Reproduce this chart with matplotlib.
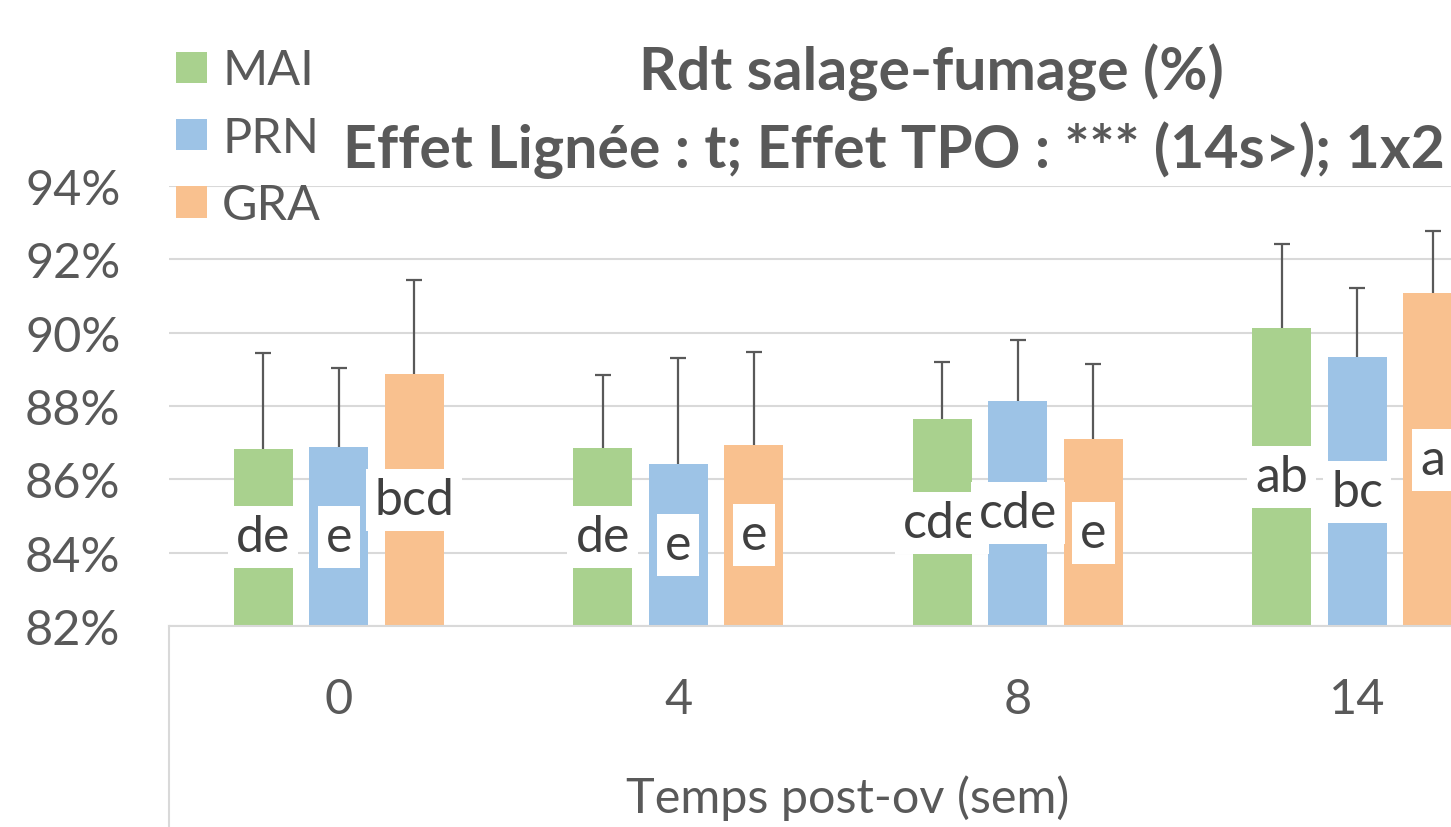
import numpy as np
import matplotlib
matplotlib.use("Agg")
from matplotlib import pyplot as plt
from matplotlib.patches import Patch
from matplotlib.lines import Line2D

# temps post-ovulation (semaines)
temps = ["0", "4", "8", "14"]
lignees = ["MAI", "PRN", "GRA"]

# rendement salage-fumage (%) et écart-type (barre haute)
mai = [86.83, 86.85, 87.64, 90.14]
prn = [86.88, 86.41, 88.15, 89.33]
gra = [88.87, 86.95, 87.09, 91.07]
mai_sd = [2.62, 2.00, 1.55, 2.29]
prn_sd = [2.16, 2.91, 1.66, 1.88]
gra_sd = [2.57, 2.52, 2.05, 1.70]

# lettres des groupes homogènes
mai_lettres = ["de", "de", "cde", "ab"]
prn_lettres = ["e", "e", "cde", "bc"]
gra_lettres = ["bcd", "e", "e", "a"]

couleurs = ["#A9D18E", "#9DC3E6", "#F9C18F"]
gris = "#595959"

plt.rcParams['font.family'] = ['Lato', 'DejaVu Sans']

fig = plt.figure(figsize=(14.51, 8.28), dpi=100)
# zone de tracé plus large que l'image (graphique rogné à droite)
ax = fig.add_axes([169 / 1451, 1 - 627 / 828, 1358 / 1451, (627 - 187) / 828])

x = np.arange(len(temps))
decal = 0.2227
largeur = 0.174
ymin, ymax = 82, 94

series = [mai, prn, gra]
sds = [mai_sd, prn_sd, gra_sd]
lettres = [mai_lettres, prn_lettres, gra_lettres]

for i, (vals, sd, lab, col) in enumerate(zip(series, sds, lettres, couleurs)):
    pos = x + (i - 1) * decal
    vals = np.array(vals)
    haut = vals + np.array(sd)
    ax.bar(pos, vals, width=largeur, color=col, zorder=2)
    # barre d'erreur haute seulement
    ax.vlines(pos, vals, haut, color=gris, linewidth=1.6, zorder=3)
    ax.plot(pos, haut, ls='none', marker='_', ms=12, mew=1.6, color=gris, zorder=3)
    for p, v, t in zip(pos, vals, lab):
        ax.text(p, (ymin + v) / 2, t, ha='center', va='center', fontsize=36,
                color="#404040", zorder=4 + i,
                bbox=dict(boxstyle='square,pad=0.16', fc='white', ec='none'))

ax.set_ylim(ymin, ymax)
ax.set_xlim(-0.5, len(temps) - 0.5)
ax.set_yticks(np.arange(82, 95, 2))
ax.set_yticklabels(["%d%%" % v for v in range(82, 95, 2)])
ax.set_xticks(x)
ax.set_xticklabels(temps)
ax.tick_params(axis='both', length=0, labelsize=35, labelcolor=gris)
ax.tick_params(axis='y', pad=35)
ax.tick_params(axis='x', pad=37)
ax.grid(axis='y', color="#D9D9D9", linewidth=1.5, zorder=0)
ax.set_axisbelow(True)
for s in ['left', 'right', 'top']:
    ax.spines[s].set_visible(False)
ax.spines['bottom'].set_color("#D9D9D9")
ax.spines['bottom'].set_linewidth(1.5)
ax.add_line(Line2D([0, 0], [0, -0.5], transform=ax.transAxes, color="#D9D9D9",
                   linewidth=1.5, clip_on=False))

ax.set_xlabel("Temps post-ov (sem)", fontsize=35, color=gris, labelpad=38)

fig.text(931 / 1451, 1 - 72 / 828, "Rdt salage-fumage (%)", ha='center', va='center',
         fontsize=42.5, fontweight='bold', color=gris)
fig.text(343 / 1451, 1 - 150 / 828, "Effet Lignée : t; Effet TPO : *** (14s>); 1x2",
         ha='left', va='center', fontsize=42.5, fontweight='bold', color=gris)

handles = [Patch(facecolor=c, edgecolor='none') for c in couleurs]
fig.legend(handles, lignees, loc='upper left', bbox_to_anchor=(157 / 1451, 1 - 30 / 828),
           frameon=False, fontsize=35, labelcolor=gris, handlelength=0.62,
           handleheight=0.62, handletextpad=0.32, labelspacing=0.48, borderaxespad=0)

fig.savefig("out.png", dpi=100)
